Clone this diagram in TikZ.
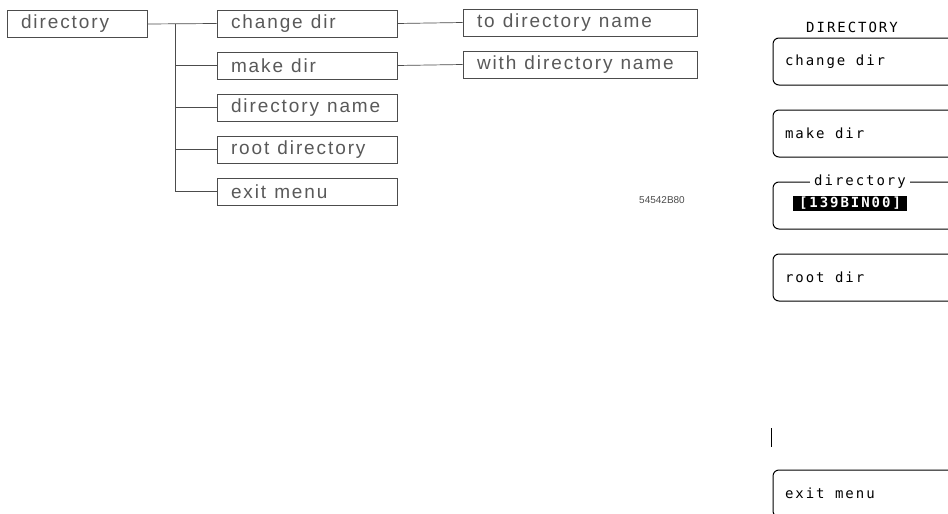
\documentclass[tikz,border=0pt]{standalone}
\usepackage{fontspec}
\setmainfont{Liberation Sans}
\newfontfamily\plotfont[LetterSpace=10]{Liberation Sans}
\newfontfamily\lcdfont[LetterSpace=14]{DejaVu Sans Mono}
\newcommand\plotfontset{\plotfont\fontsize{19}{22}\selectfont}
\newcommand\lcdfontset{\lcdfont\fontsize{14}{16}\selectfont}
\tikzset{
  plotbox/.style={draw=black!70, line width=0.7pt, minimum height=27pt, inner xsep=14pt, inner ysep=0pt,
    align=left, text=black!65, font=\plotfontset, execute at begin node={\spaceskip=8pt\relax}},
  col1/.style={plotbox, text width=112pt},
  col2/.style={plotbox, text width=152pt},
  col3/.style={plotbox, text width=206pt},
  plotline/.style={draw=black!70, line width=0.7pt},
  lcd/.style={font=\lcdfontset},
  softkey/.style={lcd, draw=black, line width=1pt, rounded corners=6pt, minimum height=47pt,
    inner xsep=12pt, inner ysep=0pt, text width=176pt, align=left,
    execute at begin node={\spaceskip=10.5pt\relax}},
}
\begin{document}
\begin{tikzpicture}[x=1pt,y=-1pt]
\useasboundingbox (0,0) rectangle (948,514);
\clip (0,0) rectangle (948,514);
\fill[white] (0,0) rectangle (948,514);
% ---- left tree ----
\node[col1] (dir) at (77,24) {directory};
\node[col2] (chg) at (307,23.5) {change dir};
\node[col2] (mk) at (307,65.5) {make dir};
\node[col2] (dn) at (307,107.5) {directory name};
\node[col2] (root) at (307,149.5) {root directory};
\node[col2] (exit) at (307,191.5) {exit menu};
\node[col3] (to) at (580,22.5) {to directory name};
\node[col3] (with) at (580,64.5) {with directory name};
\coordinate (trunk) at (175,24);
\draw[plotline] (dir.east) -- (chg.west);
\draw[plotline] (trunk) |- (mk.west);
\draw[plotline] (trunk) |- (dn.west);
\draw[plotline] (trunk) |- (root.west);
\draw[plotline] (trunk) |- (exit.west);
\draw[plotline] (chg.east) -- (to.west);
\draw[plotline] (mk.east) -- (with.west);
\node[text=black!70, font=\fontsize{10}{12}\selectfont] (code) at (662,200) {54542B80};
% ---- right softkey panel ----
\node[lcd] (title) at (852,27) {DIRECTORY};
\node[softkey] (k1) at (873,61.5) {change dir};
\node[softkey] (k2) at (873,133.5) {make dir};
\node[softkey] (k3) at (873,205.5) {};
\node[lcd, fill=white, inner xsep=4pt, inner ysep=1pt] (k3lab) at (860,182) {directory};
\node[fill=black, text=white, inner xsep=3pt, inner ysep=1pt, minimum width=114pt, minimum height=13pt,
  font=\lcdfont\fontsize{14}{14}\bfseries] (k3val) at (850,203.5) {[139BIN00]};
\node[softkey] (k4) at (873,277.5) {root dir};
\coordinate (markA) at (771,428);
\coordinate (markB) at (771,447);
\draw[line width=1pt] (markA) -- (markB);
\node[softkey] (k8) at (873,493.5) {exit menu};
\end{tikzpicture}
\end{document}
